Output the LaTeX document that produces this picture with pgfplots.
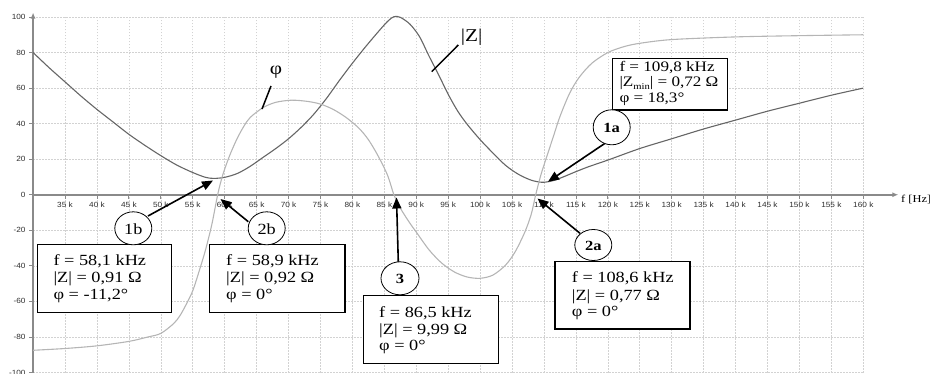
\documentclass[border=0pt]{standalone}
\usepackage{fontspec}
\setmainfont{Liberation Serif}
\newfontfamily\serifS[FakeStretch=1.18]{Liberation Serif}
\newfontfamily\sansS[FakeStretch=1.1]{Liberation Sans}
\usepackage{pgfplots}
\pgfplotsset{compat=1.18}
\usetikzlibrary{arrows.meta}
\definecolor{zcol}{HTML}{666666}
\definecolor{phicol}{HTML}{B5B5B5}
\definecolor{gridc}{HTML}{D2D2D2}
\definecolor{axc}{HTML}{8A8A8A}
\definecolor{tickc}{HTML}{2E2E2E}

\pgfplotstableread{
f v
30 80
32.5 71.5
35 63.5
37.5 55.5
40 48
42.5 41
45 34
47.5 27.8
50 22
52.5 16.7
55 12.5
57 9.8
58.3 9.2
60 9.8
62 12
64 16
66 21
68 26
70 31.5
72 38
74 45.5
76 54.5
78 64.5
80 74
82 83
84 91.5
85.5 97.5
86.5 100.2
87.5 99.8
89 96
90.5 89
92 78
93.5 67.5
95 56.5
96.5 47
98 39.5
100 31
102 23.5
104 16.5
106 11.5
108 8.2
109.8 7
111.5 8
113 10
115 13
117 15.8
120 19.5
125 26
130 31.5
135 37
140 42
145 47
150 51.5
155 56
160 60
}\zdata

\pgfplotstableread{
f v
30 -87.5
35 -86.5
40 -85
45 -82.5
48 -80
50 -78
52 -72.5
53 -68
54 -61.5
55 -54
56 -43
57 -31
58 -16.5
58.9 0
59.6 10
60.3 17.5
61 24
62 32
63 38.5
64 43.5
66 49
68 52
70.5 53.2
73 52.5
75 51
77 48
79 43.5
81 37.5
82.5 31
84 22
85.5 11
86.5 0
87.5 -7.5
89 -16
90 -21
92 -31
94 -38.5
96 -43.5
98 -46.3
100 -47
102 -45.2
104 -39.5
105.5 -32
107 -21
108 -11
108.7 0
109.5 11
110.3 20
111.4 32
112.5 44
114 57
115.5 66
117.5 74
120 80
122.5 83.3
125 85.2
130 87.3
140 88.8
150 89.5
160 90
}\phidata

\begin{document}
\begin{tikzpicture}
\useasboundingbox (0,0) rectangle (930pt,373pt);
\begin{axis}[
  at={(33.1pt,0.5pt)}, anchor=south west,
  scale only axis, width=830.2pt, height=355.5pt,
  xmin=30, xmax=160, ymin=-100, ymax=100,
  axis x line=middle, axis y line=left,
  hide obscured x ticks=false, hide obscured y ticks=false,
  xtick={35,40,...,160},
  xticklabels={35 k,40 k,45 k,50 k,55 k,60 k,65 k,70 k,75 k,80 k,85 k,90 k,95 k,100 k,105 k,110 k,115 k,120 k,125 k,130 k,135 k,140 k,145 k,150 k,155 k,160 k},
  ytick={-100,-80,...,100},
  yticklabels={-100,-80,-60,-40,-20,0,20,40,60,80,100},
  xticklabel style={font=\sansS\fontsize{7.5}{8}\selectfont, text=tickc},
  yticklabel style={font=\sansS\fontsize{7.5}{8}\selectfont, text=tickc},
  grid=major,
  grid style={gridc, dash pattern=on 1.5pt off 1.5pt, line width=0.6pt},
  axis line style={axc, line width=1.6pt},
  x axis line style={-{Latex[length=6pt,width=5pt]}, shorten >=-35pt},
  y axis line style={-{Latex[length=6pt,width=5pt]}, shorten >=-4.5pt},
  tick style={axc, line width=0.8pt},
  major tick length=4pt,
  tick align=outside,
  clip=false,
]
\addplot[zcol, line width=1.1pt, smooth, no markers] table[x=f,y=v] {\zdata};
\addplot[phicol, line width=1.1pt, smooth, no markers] table[x=f,y=v] {\phidata};
\end{axis}

\begin{scope}[x=1pt, y=-1pt, yshift=373pt,
  arr/.style={line width=1.6pt, -{Triangle[length=11pt,width=9pt]}},
  bt/.style={anchor=base west, inner sep=0pt, font=\serifS\fontsize{15.5}{17}\selectfont},
  bs/.style={anchor=base west, inner sep=0pt, font=\serifS\fontsize{14.5}{15}\selectfont},
  ct/.style={inner sep=0pt, font=\serifS\fontsize{15.5}{17}\selectfont},
  bx/.style={line width=1.4pt, fill=white},
  el/.style={line width=0.8pt, fill=white}]
% labels of curves
\draw[line width=1.5pt] (262,109) -- (271,86);
\node[inner sep=0pt, font=\serifS\fontsize{18}{18}\selectfont] at (276,72) {φ};
\draw[line width=1.5pt] (431.7,71.7) -- (458.3,45);
\node[inner sep=0pt, font=\serifS\fontsize{18}{18}\selectfont] at (471.7,37) {|Z|};
\node[anchor=west, inner sep=0pt, font=\serifS\fontsize{10.5}{11}\selectfont] at (901,200) {f [Hz]};
% arrows
\draw[arr] (148,216) -- (213,180.5);
\draw[arr] (248.3,221.7) -- (220.5,199);
\draw[arr] (398.3,262) -- (396.5,197.5);
\draw[arr] (580,233.3) -- (537.5,198.5);
\draw[arr] (605,143.3) -- (548,181.7);
% boxes
\draw[bx] (37.3,244.3) rectangle (171.7,312.3);
\node[bt] at (53.3,265) {f = 58,1 kHz};
\node[bt] at (53.3,282.5) {|Z| = 0,91 Ω};
\node[bt] at (53.3,299.5) {φ = -11,2°};
\draw[bx] (209.3,244.3) rectangle (345,312.3);
\node[bt] at (226,265) {f = 58,9 kHz};
\node[bt] at (226,282.5) {|Z| = 0,92 Ω};
\node[bt] at (226,299.5) {φ = 0°};
\draw[bx] (363.3,295.7) rectangle (498.3,363.3);
\node[bt] at (379,317) {f = 86,5 kHz};
\node[bt] at (379,334.5) {|Z| = 9,99 Ω};
\node[bt] at (379,350.5) {φ = 0°};
\draw[bx] (555,261.7) rectangle (690,329);
\node[bt] at (571.7,282.5) {f = 108,6 kHz};
\node[bt] at (571.7,300) {|Z| = 0,77 Ω};
\node[bt] at (571.7,316.5) {φ = 0°};
\draw[bx] (612.7,58.3) rectangle (727.3,110);
\node[bs] at (619.3,72) {f = 109,8 kHz};
\node[bs] at (619.3,87) {|Z\raisebox{-2.5pt}{\fontsize{9}{9}\selectfont min}| = 0,72 Ω};
\node[bs] at (619.3,102.5) {φ = 18,3°};
% circles
\draw[el] (133.3,228.3) ellipse [x radius=18.5, y radius=16.5];
\node[ct] at (133.3,229) {1b};
\draw[el] (266.7,228.3) ellipse [x radius=18.5, y radius=16.5];
\node[ct] at (266.7,229) {2b};
\draw[el] (400,278.3) ellipse [x radius=19, y radius=16.5];
\node[ct, font=\serifS\bfseries\fontsize{14}{16}\selectfont] at (400,279) {3};
\draw[el] (593.3,245) ellipse [x radius=18.5, y radius=15.5];
\node[ct, font=\serifS\bfseries\fontsize{14}{16}\selectfont] at (593.3,245.5) {2a};
\draw[el] (611.7,127.3) ellipse [x radius=18.5, y radius=17.5];
\node[ct, font=\serifS\bfseries\fontsize{14}{16}\selectfont] at (611.7,128) {1a};
\end{scope}
\end{tikzpicture}
\end{document}
